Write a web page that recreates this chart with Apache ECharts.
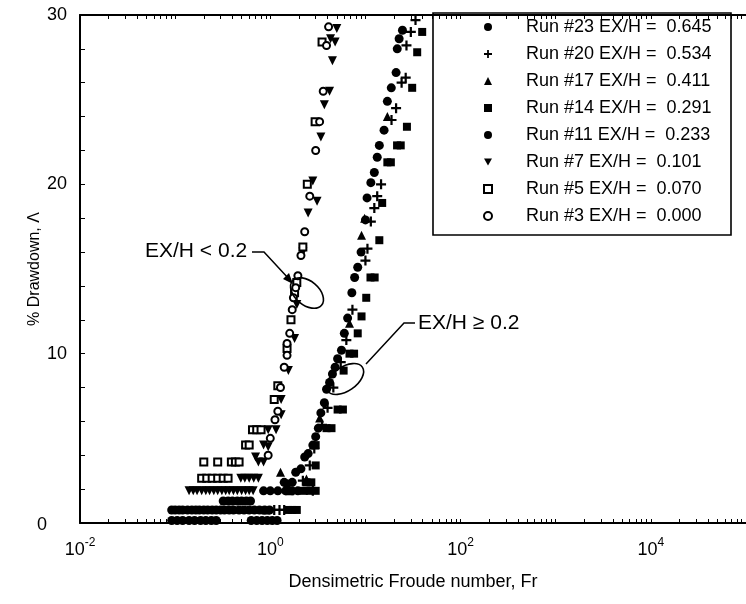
<!DOCTYPE html>
<html>
<head>
<meta charset="utf-8">
<script src="https://cdn.jsdelivr.net/npm/echarts@6/dist/echarts.min.js"></script>
<style>
  html, body { margin: 0; padding: 0; background: #fff; }
  #chart { width: 746px; height: 604px; }
</style>
</head>
<body>
<div id="chart"></div>
<script>
// ticks and labels
const xLabelValues = [0.01, 1, 100, 10000]
const xTickValues = []
for (let e = -2; e < 5; e++) {
  for (let m = 1; m < 10; m++) xTickValues.push(+(m * Math.pow(10, e)).toPrecision(3))
}
xTickValues.push(100000)

const runNames = [
  'Run #23 EX/H =  0.645',
  'Run #20 EX/H =  0.534',
  'Run #17 EX/H =  0.411',
  'Run #14 EX/H =  0.291',
  'Run #11 EX/H =  0.233',
  'Run #7 EX/H =  0.101',
  'Run #5 EX/H =  0.070',
  'Run #3 EX/H =  0.000'
]

// [Fr, drawdown %]
const run23 = [[24.5,29.1],[21.6,28.0],[21.0,26.6],[17.0,24.9],[14.0,22.3],[12.4,20.7],[10.4,19.2],[9.0,16.0],[7.7,14.5],[6.5,12.1],[5.6,10.2],[4.8,9.2],[4.2,8.3],[3.7,7.1],[3.2,5.6],[2.8,4.6],[2.3,3.9],[1.85,3.0],[1.5,2.3],[1.2,1.9],[1.0,1.9],
  [0.092,0.77],[0.1,0.77],[0.11,0.77],[0.12,0.77],[0.135,0.77],[0.15,0.77],[0.165,0.77],[0.18,0.77],[0.2,0.77],[0.22,0.77],[0.245,0.77],[0.27,0.77],[0.3,0.77],[0.33,0.77],[0.37,0.77],[0.41,0.77]]
const run20 = [[33.6,29.7],[30,29],[27,28.2],[26.5,26.3],[24,26],[21,24.5],[18.8,23.8],[14.6,20],[13.3,19.3],[12.4,18.6],[11.4,17.8],[10.5,16.2],[10,15.5],[7.3,12.6],[6.3,10.8],[5.5,9.5],[4.6,8.0],[4.0,6.8],[3.5,5.8],[2.9,4.4],[2.6,3.4],[2.2,2.5],[2.8,1.9],[1.1,0.77],[1.25,0.77],[1.4,0.77]]
const run17 = [[17,24],[9.8,18],[9.1,17],[6.8,11.8],[3.3,6.2],[2.4,2.6],[1.28,3.0],[1.6,1.9],[0.9,0.77]]
const run14 = [[39.5,29],[35,27.8],[31,25.7],[27.3,23.4],[23.5,22.3],[21.5,22.3],[18.5,21.3],[17,21.3],[15,18.9],[14,16.7],[12.5,14.5],[11.3,14.5],[10.2,13.3],[9.1,12.2],[8.3,11.2],[7.6,10],[6.8,10],[5.9,9.0],[5.8,6.7],[5.1,6.7],[4.4,5.6],[3.9,5.6],[3.0,4.6],[3.0,3.4],[2.7,2.4],[2.4,2.4],[3.0,1.9],[2.6,1.9],[2.25,1.9],[1.9,0.77],[1.7,0.77],[1.55,0.77]]
const run11 = [[22.6,28.6],[18.7,25.7],[15.7,23.2],[13.3,21.6],[11.4,20.1],[10.0,17.9],[8.3,15.1],[7.2,13.6],[6.0,11.2],[5.1,9.7],[4.5,8.8],[3.9,7.9],[3.4,6.5],[3.0,5.1],[2.5,4.1],[2.1,3.2],[1.7,2.4],[1.4,2.4],[1.95,1.9],[1.7,1.9],[1.45,1.9],[0.85,1.9],
  [0.32,1.3],[0.36,1.3],[0.4,1.3],[0.45,1.3],[0.5,1.3],[0.56,1.3],[0.62,1.3],
  [0.47,0.77],[0.53,0.77],[0.6,0.77],[0.68,0.77],[0.77,0.77],[0.87,0.77],[0.98,0.77],
  [0.092,0.15],[0.105,0.15],[0.12,0.15],[0.14,0.15],[0.16,0.15],[0.185,0.15],[0.21,0.15],[0.24,0.15],[0.27,0.15],[0.63,0.15],[0.72,0.15],[0.82,0.15],[0.93,0.15],[1.05,0.15],[1.18,0.15]]
const run7 = [[5.0,29.2],[4.8,28.4],[4.3,28.6],[4.5,27.3],[4.2,25.5],[3.7,24.7],[3.4,22.8],[2.8,20.2],[3.1,19.0],[2.5,18.3],[2.2,16.0],[1.9,12.9],[1.8,10.9],[1.55,9.0],[1.3,7.3],[1.3,6.4],[1.15,5.5],[0.95,5.5],[0.95,4.5],[0.85,4.6],[0.85,3.6],[0.75,3.6],[0.7,3.9],
  [0.49,2.65],[0.54,2.65],[0.6,2.65],[0.67,2.65],[0.75,2.65],
  [0.14,1.9],[0.155,1.9],[0.17,1.9],[0.19,1.9],[0.21,1.9],[0.23,1.9],[0.255,1.9],[0.28,1.9],[0.31,1.9],[0.34,1.9],[0.37,1.9],[0.41,1.9],[0.45,1.9],[0.5,1.9],[0.55,1.9],[0.6,1.9],[0.66,1.9]]
const run5 = [[3.5,28.4],[2.96,23.7],[2.45,20],[2.2,16.3],[1.9,14.2],[1.8,13.6],[1.65,12.0],[1.5,10.3],[1.2,8.1],[1.1,7.3],[0.65,5.5],[0.72,5.5],[0.8,5.5],[0.55,4.6],[0.6,4.6],
  [0.2,3.6],[0.28,3.6],[0.39,3.6],[0.43,3.6],[0.47,3.6],[0.19,2.65],[0.215,2.65],[0.245,2.65],[0.28,2.65],[0.32,2.65],[0.36,2.65]]
const run3 = [[4.1,29.3],[3.9,28.2],[3.6,25.5],[3.3,23.7],[3.0,22.0],[2.6,19.3],[2.3,17.2],[2.1,15.8],[1.95,14.6],[1.85,13.9],[1.75,13.3],[1.7,12.6],[1.6,11.2],[1.5,10.6],[1.5,9.9],[1.4,9.2],[1.28,8.0],[1.2,6.6],[1.12,6.1],[1.0,5.0],[0.95,4.0]]

const runData = [run23, run20, run17, run14, run11, run7, run5, run3]

const font = "'Liberation Sans', Arial, sans-serif"
const plusPath = 'path://M3.5,0H5.5V3.5H9V5.5H5.5V9H3.5V5.5H0V3.5H3.5Z'
const downTri = 'path://M0,0H10L5,9Z'
const symbols = [
  ['circle', 9], [plusPath, 10], ['triangle', 9], ['rect', 8],
  ['circle', 9], [downTri, 9], ['emptyRect', 7], ['emptyCircle', 7]
]

const chart = echarts.init(document.getElementById('chart'))

const seriesList = runNames.map((name, i) => ({
  name: name,
  type: 'scatter',
  data: runData[i],
  symbol: symbols[i][0],
  symbolSize: symbols[i][1],
  itemStyle: { color: '#000', opacity: 1, borderWidth: symbols[i][0].startsWith('empty') ? 1.8 : 0 },
  emphasis: { disabled: true }
}))

const topAxis = {
  type: 'log', logBase: 10, min: 0.01, max: 100000, position: 'top',
  axisLine: { lineStyle: { color: '#000', width: 2 } },
  axisTick: { inside: true, length: 4, customValues: xTickValues, lineStyle: { color: '#000' } },
  axisLabel: { show: false },
  splitLine: { show: false }
}

chart.setOption({
  backgroundColor: '#fff',
  animation: false,
  grid: { left: 80, right: -10, top: 15, bottom: 81 },
  legend: {
    orient: 'vertical',
    left: 478,
    top: 13,
    itemWidth: 8,
    itemHeight: 8,
    itemGap: 9,
    data: runNames,
    itemStyle: { opacity: 1 },
    textStyle: { fontFamily: font, fontSize: 18, color: '#000', lineHeight: 18, padding: [0, 0, 0, 29] }
  },
  xAxis: [{
    type: 'log', logBase: 10, min: 0.01, max: 100000, position: 'bottom',
    axisLine: { lineStyle: { color: '#000', width: 2 } },
    axisTick: { inside: true, length: 4, customValues: xTickValues, lineStyle: { color: '#000' } },
    axisLabel: {
      customValues: xLabelValues,
      margin: 14,
      formatter: v => '{b|10}{s|' + Math.round(Math.log10(v)) + '}',
      rich: {
        b: { fontFamily: font, fontSize: 18, color: '#000', lineHeight: 22, verticalAlign: 'bottom' },
        s: { fontFamily: font, fontSize: 12, color: '#000', lineHeight: 12, verticalAlign: 'top' }
      }
    },
    splitLine: { show: false },
    name: 'Densimetric Froude number, Fr',
    nameLocation: 'middle',
    nameGap: 50,
    nameMoveOverlap: false,
    nameTextStyle: { fontFamily: font, fontSize: 18, color: '#000' }
  }, topAxis],
  yAxis: {
    type: 'value', min: 0, max: 30, interval: 2,
    axisLine: { show: true, lineStyle: { color: '#000', width: 2 } },
    axisTick: { inside: true, length: 5, lineStyle: { color: '#000' } },
    axisLabel: {
      margin: 13,
      fontFamily: font, fontSize: 18, color: '#000',
      formatter: v => (v % 10 === 0 ? (v === 0 ? '{z|0}' : String(v)) : ''),
      rich: { z: { fontFamily: font, fontSize: 18, color: '#000', padding: [4, 20, 0, 0] } }
    },
    splitLine: { show: false },
    name: '% Drawdown, Λ',
    nameLocation: 'middle',
    nameGap: 37,
    nameMoveOverlap: false,
    nameTextStyle: { fontFamily: font, fontSize: 16, color: '#000' }
  },
  graphic: [
    { type: 'rect', shape: { x: 433, y: 13, width: 298, height: 222 }, style: { fill: '#fff', stroke: '#000', lineWidth: 1.6 }, z: 0 },
    { type: 'text', x: 145, y: 251, style: { text: 'EX/H < 0.2', font: '21px ' + font, fill: '#000', verticalAlign: 'middle' }, z: 10 },
    { type: 'polyline', shape: { points: [[252, 252], [264, 252], [289, 279]] }, style: { stroke: '#000', lineWidth: 1.5, fill: null }, z: 10 },
    { type: 'polygon', shape: { points: [[293, 284], [283, 279], [289, 273]] }, style: { fill: '#000' }, z: 10 },
    { type: 'ellipse', x: 307, y: 293, rotation: -0.7, shape: { cx: 0, cy: 0, rx: 19, ry: 12 }, style: { stroke: '#000', lineWidth: 1.6, fill: null }, z: 10 },
    { type: 'text', x: 418, y: 323, style: { text: 'EX/H ≥ 0.2', font: '21px ' + font, fill: '#000', verticalAlign: 'middle' }, z: 10 },
    { type: 'polyline', shape: { points: [[415, 323], [404, 323], [366, 364]] }, style: { stroke: '#000', lineWidth: 1.5, fill: null }, z: 10 },
    { type: 'ellipse', x: 345, y: 379, rotation: 0.6, shape: { cx: 0, cy: 0, rx: 21, ry: 12 }, style: { stroke: '#000', lineWidth: 1.6, fill: null }, z: 10 }
  ],
  series: seriesList
})
</script>
</body>
</html>
